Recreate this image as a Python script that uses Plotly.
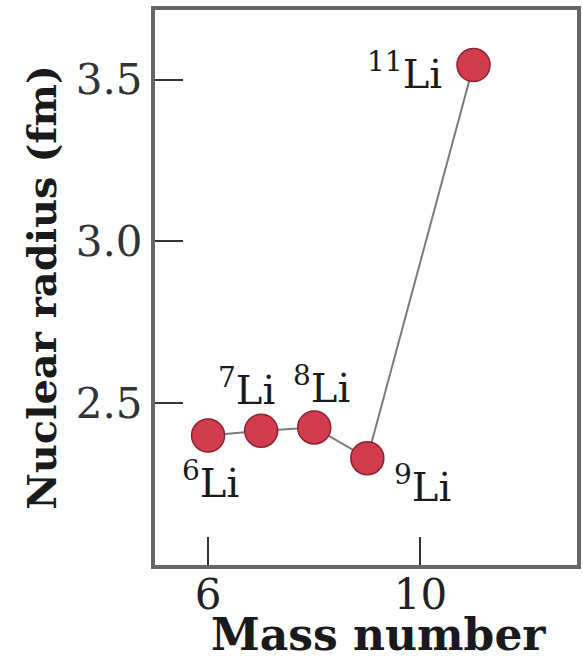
import plotly.graph_objects as go

# Data
mass_number = [6, 7, 8, 9, 11]
nuclear_radius = [2.40, 2.415, 2.425, 2.33, 3.545]
isotope_labels = ["<sup>6</sup>Li", "<sup>7</sup>Li", "<sup>8</sup>Li", "<sup>9</sup>Li", "<sup>11</sup>Li"]
x_ticks = [6, 10]
y_ticks = [2.5, 3.0, 3.5]
y_tick_labels = ["2.5", "3.0", "3.5"]

# label pixel offsets (styling only)
label_dx = [2, -15, 7, 55, -69]
label_dy = [-44, 44, 42, -26, -6]

FONT = "DejaVu Serif"

fig = go.Figure()
fig.add_trace(go.Scatter(
    x=mass_number, y=nuclear_radius, mode="lines+markers",
    line=dict(color="#7a7a7a", width=2),
    marker=dict(size=33, color="#d33b4f", line=dict(color="#8a2233", width=1.5)),
    showlegend=False, hoverinfo="skip",
))

for x, y, t, dx, dy in zip(mass_number, nuclear_radius, isotope_labels, label_dx, label_dy):
    fig.add_annotation(x=x, y=y, text=t, showarrow=False, xshift=dx, yshift=dy,
                       xanchor="center", yanchor="middle",
                       font=dict(family=FONT, size=40, color="#1a1a1a"))

# x-axis title as annotation (placed below tick labels)
fig.add_annotation(xref="paper", yref="paper", x=0.53, y=0, yshift=-69,
                   xanchor="center", yanchor="middle", showarrow=False,
                   text="<b>Mass number</b>", borderpad=0,
                   font=dict(family=FONT, size=44, color="#1a1a1a"))

fig.update_layout(
    width=583, height=664,
    margin=dict(l=155, r=2, t=10, b=99),
    paper_bgcolor="white", plot_bgcolor="white",
    font=dict(family=FONT, color="#222"),
)
fig.update_xaxes(
    range=[5, 12.95], tickvals=x_ticks, ticktext=[str(v) for v in x_ticks],
    ticks="inside", ticklen=28, tickwidth=2, tickcolor="#333",
    showline=True, linewidth=4, linecolor="#666", mirror=True,
    showgrid=False, zeroline=False, ticklabelstandoff=-10,
    tickfont=dict(family=FONT, size=42, color="#222"),
)
fig.update_yaxes(
    range=[2.0, 3.715], tickvals=y_ticks, ticktext=y_tick_labels,
    ticks="inside", ticklen=28, tickwidth=2, tickcolor="#333",
    showline=True, linewidth=4, linecolor="#666", mirror=True,
    showgrid=False, zeroline=False,
    tickfont=dict(family=FONT, size=42, color="#333"),
    title=dict(text="<b>Nuclear radius (fm)</b>", font=dict(family=FONT, size=40, color="#1a1a1a"), standoff=8),
)

fig.write_html("out.html")
